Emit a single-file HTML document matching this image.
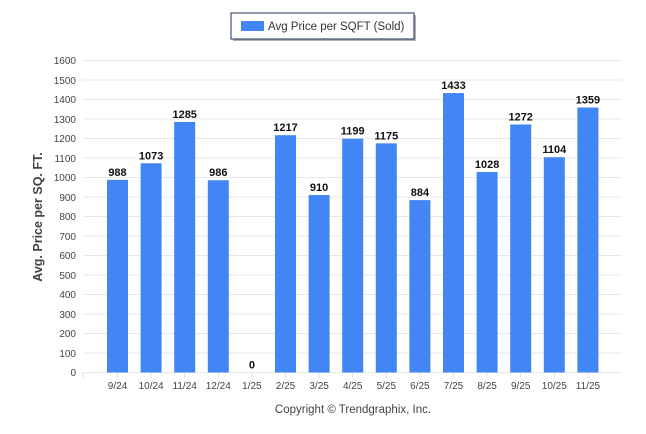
<!DOCTYPE html>
<html><head><style>
body{margin:0;background:#fff;}
svg{display:block;font-family:"Liberation Sans",Arial,sans-serif;}
</style></head><body>
<svg width="646" height="434" viewBox="0 0 646 434">
<rect x="233" y="15" width="183" height="26" fill="#666" opacity="0.5"/>
<rect x="231" y="13" width="183" height="26" fill="#fff" stroke="#1f2d5a" stroke-width="1"/>
<rect x="241" y="21" width="23" height="10" fill="#4285f4"/>
<text x="268" y="30" font-size="11.5" fill="#333">Avg Price per SQFT (Sold)</text>
<g stroke="#e8e8e8" stroke-width="1">
<line x1="83" x2="622" y1="60.5" y2="60.5"/><line x1="83" x2="622" y1="80" y2="80"/><line x1="83" x2="622" y1="99.5" y2="99.5"/><line x1="83" x2="622" y1="119" y2="119"/><line x1="83" x2="622" y1="138.5" y2="138.5"/><line x1="83" x2="622" y1="158" y2="158"/><line x1="83" x2="622" y1="177.5" y2="177.5"/><line x1="83" x2="622" y1="197" y2="197"/><line x1="83" x2="622" y1="216.5" y2="216.5"/><line x1="83" x2="622" y1="236" y2="236"/><line x1="83" x2="622" y1="255.5" y2="255.5"/><line x1="83" x2="622" y1="275" y2="275"/><line x1="83" x2="622" y1="294.5" y2="294.5"/><line x1="83" x2="622" y1="314" y2="314"/><line x1="83" x2="622" y1="333.5" y2="333.5"/><line x1="83" x2="622" y1="353" y2="353"/><line x1="83" x2="622" y1="372.5" y2="372.5"/>
</g>
<g font-size="10" fill="#444" text-anchor="end">
<text x="76" y="64">1600</text><text x="76" y="84">1500</text><text x="76" y="103">1400</text><text x="76" y="123">1300</text><text x="76" y="142">1200</text><text x="76" y="162">1100</text><text x="76" y="181">1000</text><text x="76" y="201">900</text><text x="76" y="220">800</text><text x="76" y="240">700</text><text x="76" y="259">600</text><text x="76" y="279">500</text><text x="76" y="298">400</text><text x="76" y="318">300</text><text x="76" y="337">200</text><text x="76" y="357">100</text><text x="76" y="376">0</text>
</g>
<text transform="translate(42,217) rotate(-90)" font-size="12.5" font-weight="bold" fill="#444" text-anchor="middle">Avg. Price per SQ. FT.</text>
<g id="bars" fill="#4285f4"></g>
<g id="labels" font-size="11" font-weight="bold" fill="#111" text-anchor="middle"></g>
<g id="xl" font-size="10" fill="#444" text-anchor="middle"></g>
<g id="ticks" stroke="#ddd"></g>
<text x="353" y="413" font-size="11.5" fill="#444" text-anchor="middle">Copyright © Trendgraphix, Inc.</text>
<script>
var d=[["9/24",988],["10/24",1073],["11/24",1285],["12/24",986],["1/25",0],["2/25",1217],["3/25",910],["4/25",1199],["5/25",1175],["6/25",884],["7/25",1433],["8/25",1028],["9/25",1272],["10/25",1104],["11/25",1359]];
var ns="http://www.w3.org/2000/svg";
function el(p,t,a,txt){var e=document.createElementNS(ns,t);for(var k in a)e.setAttribute(k,a[k]);if(txt!=null)e.textContent=txt;document.getElementById(p).appendChild(e);}
el("ticks","line",{x1:83,x2:83,y1:373,y2:378});
d.forEach(function(v,i){var cx=117.5+33.6*i;var h=v[1]*0.195;var y=372.5-h;
if(h>0)el("bars","rect",{x:cx-10.5,y:y,width:21,height:h});
el("labels","text",{x:cx,y:y-4},String(v[1]));
el("xl","text",{x:cx,y:389},v[0]);
el("ticks","line",{x1:cx,x2:cx,y1:373,y2:378});});
</script>
</svg>
</body></html>
